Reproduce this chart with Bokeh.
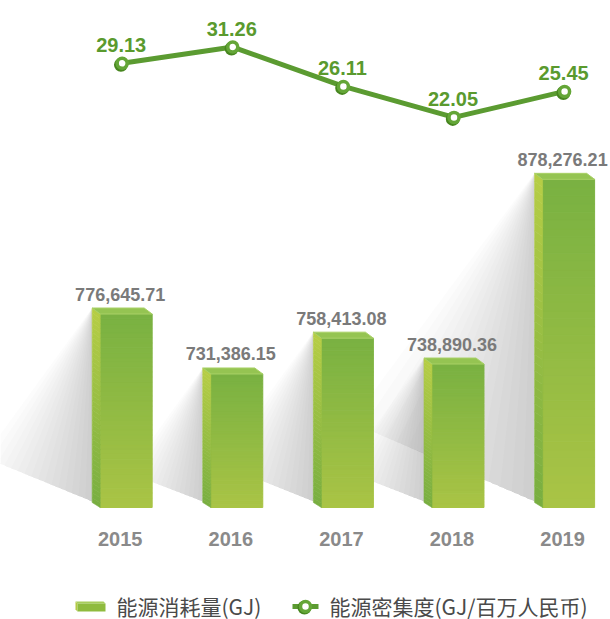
import numpy as np
from bokeh.plotting import figure
from bokeh.models import Range1d
from bokeh.core.properties import value
from bokeh.embed import file_html
from bokeh.resources import INLINE

# ---------------- data ----------------
years = ["2015", "2016", "2017", "2018", "2019"]
energy = [776645.71, 731386.15, 758413.08, 738890.36, 878276.21]       # 能源消耗量 (GJ)
intensity = [29.13, 31.26, 26.11, 22.05, 25.45]                         # 能源密集度 (GJ/百万人民币)
legend_labels = ["能源消耗量(GJ)", "能源密集度(GJ/百万人民币)"]

# ---------------- scales / layout ----------------
W, H = 610, 619
X0, X1 = -1.100, 4.415            # category index range
YB0, YB1 = 546086.0, 1013245.0    # bar value range (axis not starting at zero)
BASE = 630612.0                   # bar floor value
YL0, YL1 = -43.71, 37.36          # intensity line range

PXX = (X1 - X0) / W               # x units per screen px
PXY = (YB1 - YB0) / H             # bar units per screen px
PXL = (YL1 - YL0) / H             # line units per screen px

p = figure(width=W, height=H, x_range=Range1d(X0, X1), y_range=Range1d(YB0, YB1),
           output_backend="svg", toolbar_location=None, min_border=0,
           x_axis_location=None, y_axis_location=None)
p.outline_line_color = None
p.grid.visible = False
p.background_fill_color = "white"
p.border_fill_color = "white"
p.extra_y_ranges = {"line": Range1d(YL0, YL1), "py": Range1d(H, 0)}
p.extra_x_ranges = {"px": Range1d(0, W)}


def hex2rgb(h):
    h = h.lstrip("#")
    return [int(h[i:i + 2], 16) for i in (0, 2, 4)]


def mix(c0, c1, t):
    a, b = hex2rgb(c0), hex2rgb(c1)
    return "#%02x%02x%02x" % tuple(int(round(a[k] + (b[k] - a[k]) * t)) for k in range(3))


xs = list(range(len(years)))

# ---------------- shadows ----------------
NL = 16
sh_x, sh_y = [], []
for i, v in enumerate(energy):
    c = xs[i]
    hpx = (v - BASE) / PXY
    ax, ay = c - 30 * PXX, v + 6 * PXY
    bx, by = c - 30 * PXX, BASE + 6 * PXY
    tx, ty = ax - 0.56 * hpx * PXX, BASE + 0.26 * hpx * PXY
    for k in range(1, NL + 1):
        f = k / NL
        kx, ky = bx + f * (tx - bx), by + f * (ty - by)
        sh_x.append([ax, kx, bx])
        sh_y.append([ay, ky, by])
p.patches(sh_x, sh_y, fill_color="#707070", fill_alpha=0.019, line_color=None)

# ---------------- 3D bars ----------------
NS = 40
FRONT_TOP, FRONT_BOT = "#79b142", "#aac445"
SIDE_TOP, SIDE_BOT = "#b6cd45", "#78ae41"
fq = dict(l=[], r=[], b=[], t=[], c=[])
sx, sy, sc = [], [], []
tx_, ty_ = [], []
for i, v in enumerate(energy):
    c = xs[i]
    edges = np.linspace(BASE, v, NS + 1)
    for j in range(NS):
        t = (j + 0.5) / NS
        fq["l"].append(c - 22 * PXX)
        fq["r"].append(c + 30 * PXX)
        fq["b"].append(edges[j])
        fq["t"].append(edges[j + 1])
        fq["c"].append(mix(FRONT_BOT, FRONT_TOP, t))
    # left side face
    yl0, yl1 = BASE + 5 * PXY, v + 6 * PXY
    for j in range(NS):
        t0, t1 = j / NS, (j + 1) / NS
        sx.append([c - 30 * PXX, c - 22 * PXX, c - 22 * PXX, c - 30 * PXX])
        sy.append([yl0 + t0 * (yl1 - yl0), BASE + t0 * (v - BASE),
                   BASE + t1 * (v - BASE), yl0 + t1 * (yl1 - yl0)])
        sc.append(mix(SIDE_BOT, SIDE_TOP, (j + 0.5) / NS))
    tx_.append([c - 30 * PXX, c + 22 * PXX, c + 30 * PXX, c - 22 * PXX])
    ty_.append([v + 6 * PXY, v + 6 * PXY, v, v])

p.quad(left=fq["l"], right=fq["r"], bottom=fq["b"], top=fq["t"],
       fill_color=fq["c"], line_color=fq["c"], line_width=1)
p.patches(sx, sy, fill_color=sc, line_color=sc, line_width=0.6)
p.patches(tx_, ty_, fill_color="#95c452", line_color="#a9d166", line_width=1)

# ---------------- bar value labels ----------------
p.text(x=xs, y=energy, text=[f"{v:,.2f}" for v in energy],
       text_align="center", text_baseline="alphabetic", y_offset=-20, x_offset=-2,
       text_font=value("Liberation Sans"), text_font_style="bold",
       text_font_size="18px", text_color="#7a7a7a")

# ---------------- year labels ----------------
p.text(x=xs, y=[BASE] * len(xs), text=years,
       text_align="center", text_baseline="alphabetic", y_offset=31, x_offset=-2,
       text_font=value("Liberation Sans"), text_font_style="bold",
       text_font_size="20px", text_color="#8a8a8a")

# ---------------- intensity line ----------------
GREEN = "#5b9b31"
p.line(xs, intensity, y_range_name="line", line_color=GREEN, line_width=5)
p.scatter([x - 1.2 * PXX for x in xs], [v - 1.5 * PXL for v in intensity],
          y_range_name="line", size=14, marker="circle",
          fill_color="#47861f", line_color=None)
p.scatter(xs, intensity, y_range_name="line", size=10, marker="circle",
          fill_color="white", line_color="#64a637", line_width=3.5)
p.text(x=xs, y=intensity, text=[f"{v:.2f}" for v in intensity], y_range_name="line",
       text_align="center", text_baseline="alphabetic", y_offset=-18, x_offset=-1,
       text_font=value("Liberation Sans"), text_font_style="bold",
       text_font_size="20px", text_color="#5a9a2e")

# ---------------- legend (screen-pixel space) ----------------
LY = 605
p.patches([[75, 103, 105, 77], [75, 77, 77, 75]],
          [[LY - 4, LY - 4, LY - 2, LY - 2], [LY - 4, LY - 2, LY + 6, LY + 4]],
          x_range_name="px", y_range_name="py",
          fill_color=["#a7cd5b", "#b3ca43"], line_color=None)
p.quad(left=[77], right=[105], top=[LY - 2], bottom=[LY + 6],
       x_range_name="px", y_range_name="py", fill_color="#8fbb3e", line_color=None)
p.line([292, 318], [LY + 1, LY + 1], x_range_name="px", y_range_name="py",
       line_color=GREEN, line_width=5)
p.scatter([304], [LY + 2], x_range_name="px", y_range_name="py", size=14,
          fill_color="#47861f", line_color=None)
p.scatter([305], [LY + 1], x_range_name="px", y_range_name="py", size=10,
          fill_color="white", line_color="#64a637", line_width=3.5)
p.text(x=[116, 329], y=[LY, LY], text=legend_labels, x_range_name="px", y_range_name="py",
       text_align="left", text_baseline="middle",
       text_font=value("Noto Sans CJK SC"), text_font_size="21px", text_color="#4a4a4a")

open("out.html", "w").write(file_html(p, INLINE))
